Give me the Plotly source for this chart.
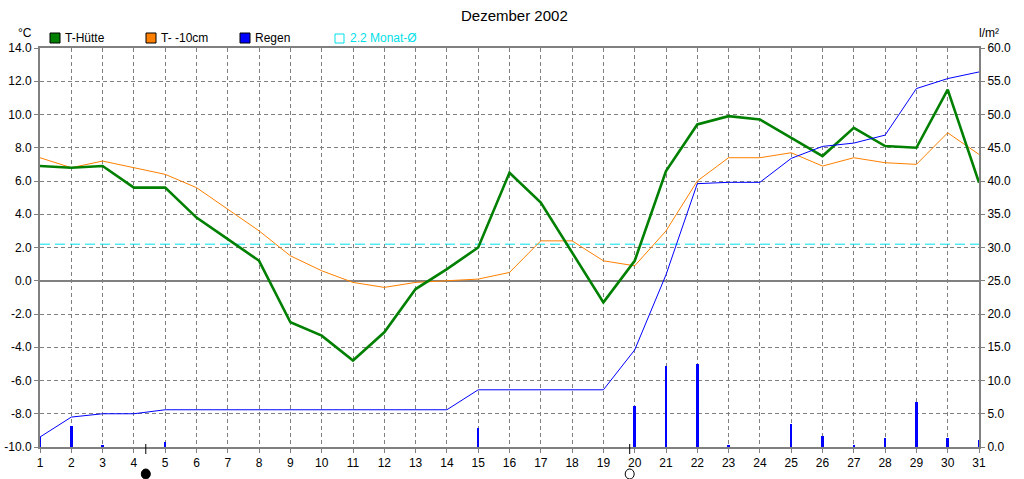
import plotly.graph_objects as go

days = list(range(1, 32))
t_huette = [6.9, 6.8, 6.9, 5.6, 5.6, 3.8, 2.5, 1.2, -2.5, -3.3, -4.8, -3.1, -0.5, 0.7, 2.0,
            6.5, 4.7, 1.7, -1.3, 1.2, 6.6, 9.4, 9.9, 9.7, 8.6, 7.5, 9.2, 8.1, 8.0, 11.5, 5.9]
t_10cm = [7.4, 6.8, 7.2, 6.8, 6.4, 5.6, 4.3, 3.0, 1.5, 0.6, -0.1, -0.4, -0.1, 0.0, 0.1,
          0.5, 2.4, 2.4, 1.2, 0.9, 3.0, 6.0, 7.4, 7.4, 7.7, 6.9, 7.4, 7.1, 7.0, 8.9, 7.6]
regen = [1.5, 3.2, 0.2, 0.0, 0.7, 0.0, 0.0, 0.0, 0.0, 0.0, 0.0, 0.0, 0.0, 0.0, 2.8,
         0.0, 0.0, 0.0, 0.0, 6.1, 12.2, 12.5, 0.2, 0.0, 3.5, 1.7, 0.2, 1.4, 6.8, 1.4, 1.0]
regen_summe = [1.5, 4.5, 5.0, 5.0, 5.6, 5.6, 5.6, 5.6, 5.6, 5.6, 5.6, 5.6, 5.6, 5.6, 8.6,
               8.6, 8.6, 8.6, 8.6, 14.6, 25.9, 39.6, 39.8, 39.8, 43.4, 45.2, 45.7, 46.9, 53.9, 55.4, 56.4]
monat_mittel = 2.2
moon_days = [4.38, 19.84]
moon_filled = [True, False]

title = "Dezember 2002"
legend_labels = ["T-Hütte", "T- -10cm", "Regen", "2.2 Monat-Ø"]
left_ticks = [-10 + 2 * i for i in range(13)]
right_ticks = [5 * i for i in range(13)]

GREEN = "#008000"
ORANGE = "#FF8000"
BLUE = "#0000FF"
CYAN = "#00E0E8"
GRAY = "#808080"
FONT = "Liberation Sans, Arial, sans-serif"

W, H = 1024, 479
L, R, T, B = 40, 45, 48, 32
PW, PH = W - L - R, H - T - B


def px(x):
    return (x - L) / PW


def py(y):
    return (H - B - y) / PH


fig = go.Figure()

fig.add_trace(go.Bar(x=days, y=regen, yaxis="y2", width=0.08, marker=dict(color=BLUE, line=dict(width=0)),
                     name="Regen", showlegend=False))
fig.add_trace(go.Scatter(x=[1, 31], y=[monat_mittel, monat_mittel], mode="lines",
                         line=dict(color=CYAN, width=1, dash="10px,5px"), showlegend=False))
fig.add_trace(go.Scatter(x=days, y=regen_summe, yaxis="y2", mode="lines",
                         line=dict(color=BLUE, width=1), showlegend=False))
fig.add_trace(go.Scatter(x=days, y=t_10cm, mode="lines", line=dict(color=ORANGE, width=1), showlegend=False))
fig.add_trace(go.Scatter(x=days, y=t_huette, mode="lines", line=dict(color=GREEN, width=2.6), showlegend=False))

shapes = []
annotations = []

# legend
leg_x = [50, 146, 240, 335]
leg_colors = [GREEN, ORANGE, BLUE, None]
for lx, col, lab in zip(leg_x, leg_colors, legend_labels):
    if col:
        shapes.append(dict(type="rect", xref="paper", yref="paper", x0=px(lx), x1=px(lx + 10),
                           y0=py(43), y1=py(33), fillcolor=col, line=dict(color="black", width=1)))
        tcol = "black"
    else:
        shapes.append(dict(type="rect", xref="paper", yref="paper", x0=px(lx), x1=px(lx + 9),
                           y0=py(43), y1=py(34), fillcolor="rgba(0,0,0,0)", line=dict(color=CYAN, width=1)))
        tcol = CYAN
    annotations.append(dict(text=lab, xref="paper", yref="paper", x=px(lx + 13), y=py(38),
                            xanchor="left", yanchor="middle", showarrow=False,
                            font=dict(family=FONT, size=12, color=tcol)))

annotations.append(dict(text=title, xref="paper", yref="paper", x=px(514), y=py(15), xanchor="center",
                        yanchor="middle", showarrow=False, font=dict(family=FONT, size=15, color="black")))
annotations.append(dict(text="°C", xref="paper", yref="paper", x=px(25), y=py(33), xanchor="center",
                        yanchor="middle", showarrow=False, font=dict(family=FONT, size=12, color="black")))
annotations.append(dict(text="l/m²", xref="paper", yref="paper", x=px(989), y=py(33), xanchor="center",
                        yanchor="middle", showarrow=False, font=dict(family=FONT, size=12, color="black")))

# moon phases
for md, filled in zip(moon_days, moon_filled):
    shapes.append(dict(type="line", xref="x", yref="paper", xsizemode="pixel", ysizemode="pixel",
                       xanchor=md, yanchor=0, x0=0, x1=0, y0=-7, y1=3, line=dict(color="black", width=1)))
    shapes.append(dict(type="circle", xref="x", yref="paper", xsizemode="pixel", ysizemode="pixel",
                       xanchor=md, yanchor=py(474), x0=-4.5, x1=4.5, y0=-5, y1=5,
                       fillcolor="black" if filled else "white", line=dict(color="black", width=1)))

fig.update_layout(
    width=W, height=H,
    margin=dict(l=L, r=R, t=T, b=B, pad=0, autoexpand=False),
    paper_bgcolor="white", plot_bgcolor="white",
    showlegend=False,
    bargap=0,
    font=dict(family=FONT, size=12, color="black"),
    xaxis=dict(range=[1, 31], tickvals=days, ticktext=[str(d) for d in days], showgrid=True,
               gridcolor=GRAY, gridwidth=1, griddash="4px,3px", showline=True, linecolor=GRAY,
               linewidth=2, mirror=True, ticks="outside", ticklen=4, tickcolor=GRAY, zeroline=False,
               tickfont=dict(size=12), automargin=False),
    yaxis=dict(range=[-10, 14], tickvals=left_ticks, ticktext=[f"{v:.1f}" for v in left_ticks],
               showgrid=True, gridcolor=GRAY, gridwidth=1, griddash="4px,3px", showline=True,
               linecolor=GRAY, linewidth=2, ticks="outside", ticklen=4, tickcolor=GRAY,
               zeroline=True, zerolinecolor=GRAY, zerolinewidth=2, tickfont=dict(size=12),
               automargin=False),
    yaxis2=dict(range=[0, 60], overlaying="y", side="right", tickvals=right_ticks,
                ticktext=[f"{v:.1f}" for v in right_ticks], showgrid=False, showline=True,
                linecolor=GRAY, linewidth=2, ticks="outside", ticklen=4, tickcolor=GRAY,
                zeroline=False, tickfont=dict(size=12), automargin=False),
    shapes=shapes,
    annotations=annotations,
)

fig.write_html("out.html")
